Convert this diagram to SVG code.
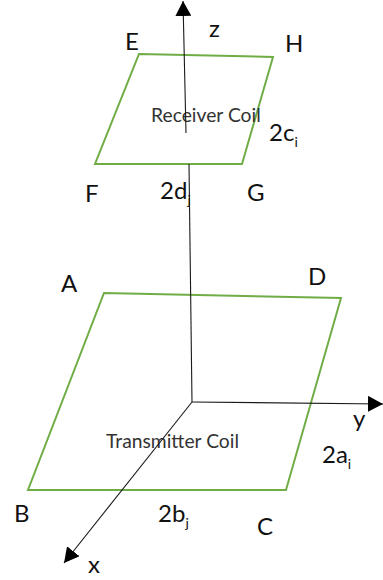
<svg xmlns="http://www.w3.org/2000/svg" width="383" height="580" viewBox="0 0 383 580">
  <style>
    .coil { fill: none; stroke: #70AD47; stroke-width: 2; stroke-linejoin: miter; }
    .axis { fill: none; stroke: #1a1a1a; stroke-width: 1.1; }
    .lbl { font-family: Lato, "Open Sans", sans-serif; font-size: 24px; fill: #111; }
    .sub { font-size: 14px; }
    .name { font-family: Lato, "Open Sans", sans-serif; font-size: 19.3px; fill: #333; }
  </style>
  <defs>
    <marker id="arrow" markerUnits="userSpaceOnUse" markerWidth="16" markerHeight="16" refX="15" refY="8" orient="auto">
      <path d="M0,0 L15,8 L0,16 z" fill="#000"/>
    </marker>
  </defs>
  <rect width="383" height="580" fill="#fff"/>

  <g id="transmitter-coil">
    <polygon class="coil" points="104,293 341,298 286,490 28,490"/>
    <text class="name" x="106" y="448">Transmitter Coil</text>
    <text class="lbl" x="61" y="292">A</text>
    <text class="lbl" x="308" y="285">D</text>
    <text class="lbl" x="14" y="522">B</text>
    <text class="lbl" x="257" y="535">C</text>
    <text class="lbl" x="158" y="522">2b<tspan class="sub" dy="6">j</tspan></text>
    <text class="lbl" x="322" y="463">2a<tspan class="sub" dy="6">i</tspan></text>
  </g>

  <g id="receiver-coil">
    <polygon class="coil" points="139,54 273,57 242,164 95,164"/>
    <text class="name" x="151" y="122">Receiver Coil</text>
    <text class="lbl" x="125" y="50">E</text>
    <text class="lbl" x="285" y="52">H</text>
    <text class="lbl" x="85" y="202">F</text>
    <text class="lbl" x="247" y="201">G</text>
    <text class="lbl" x="160" y="199">2d<tspan class="sub" dy="6">j</tspan></text>
    <text class="lbl" x="269" y="141">2c<tspan class="sub" dy="6">i</tspan></text>
  </g>

  <g id="axes">
    <line class="axis" x1="192" y1="402" x2="189" y2="164"/>
    <line class="axis" x1="186" y1="133" x2="183" y2="1" marker-end="url(#arrow)"/>
    <line class="axis" x1="192" y1="402" x2="383" y2="404" marker-end="url(#arrow)"/>
    <line class="axis" x1="192" y1="402" x2="64" y2="563" marker-end="url(#arrow)"/>
    <text class="lbl" x="209" y="37">z</text>
    <text class="lbl" x="353" y="427">y</text>
    <text class="lbl" x="88" y="573">x</text>
  </g>
</svg>
